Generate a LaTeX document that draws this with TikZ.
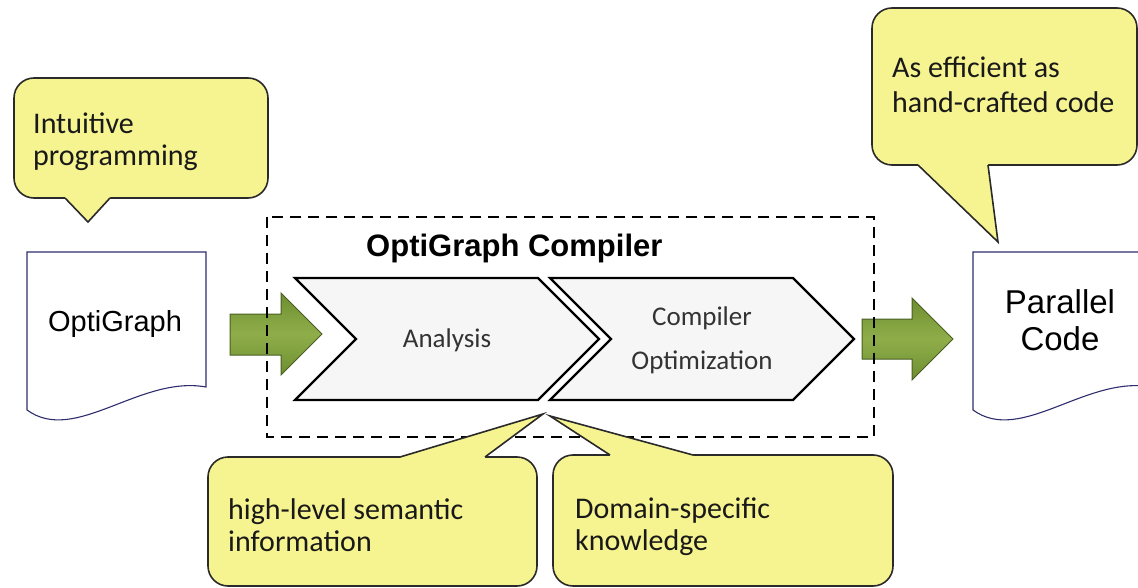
\documentclass[tikz,border=0pt]{standalone}
\usepackage{fontspec}
\setmainfont{Carlito}
\newfontfamily\arialFont{Liberation Sans}
\definecolor{calloutFill}{HTML}{F6F391}
\definecolor{calloutLine}{HTML}{2A2A2A}
\definecolor{docLine}{HTML}{2E2E6E}
\definecolor{arrowDark}{HTML}{6E8D30}
\definecolor{arrowLight}{HTML}{8FAE4A}
\definecolor{arrowLine}{HTML}{4A5E22}
\definecolor{chevronFill}{HTML}{F6F6F6}
\tikzset{
    CalloutShape/.style={fill=calloutFill, draw=calloutLine, line width=1.6pt, rounded corners=20pt},
    CalloutTail/.style={fill=calloutFill},
    CalloutEdge/.style={draw=calloutLine, line width=1.6pt, line join=miter},
    CalloutText/.style={font=\fontsize{30}{32}\selectfont, text=black!90, anchor=north west, inner sep=0pt, align=left},
    DocShape/.style={fill=white, draw=docLine, line width=1.1pt},
    DocText/.style={font=\arialFont\fontsize{29}{35}\selectfont, align=center},
    ChevronShape/.style={fill=chevronFill, draw=black, line width=2.2pt, line join=miter},
    ChevronText/.style={font=\fontsize{27}{44}\selectfont, text=black!80, align=center},
    FatArrow/.style={top color=arrowDark, bottom color=arrowDark, middle color=arrowLight, draw=arrowLine, line width=1pt},
    CompilerFrame/.style={draw=black, line width=1.8pt, dash pattern=on 11pt off 7pt}
}

\begin{document}
\begin{tikzpicture}[x=1pt, y=-1pt]
    \useasboundingbox (0,0) rectangle (1138,588);

    % documents
    \draw[DocShape] (27,252) -- (206,252) -- (206,387) .. controls (140,375) and (75,445) .. (27,410) -- cycle;
    \draw[DocShape] (973,252) -- (1152,252) -- (1152,387) .. controls (1086,375) and (1021,445) .. (973,410) -- cycle;
    \node[DocText, anchor=base] (source) at (115,331) {OptiGraph};
    \node[DocText, font=\arialFont\fontsize{33}{37}\selectfont] (parallel) at (1060,320) {Parallel\\Code};

    % compiler stages
    \draw[ChevronShape] (295,278) -- (538,278) -- (599,339) -- (538,400) -- (295,400) -- (356,339) -- cycle;
    \draw[ChevronShape] (550,278) -- (793,278) -- (854,339) -- (793,400) -- (550,400) -- (611,339) -- cycle;
    \node[ChevronText] (analysis) at (447,340) {Analysis};
    \node[ChevronText] (optimization) at (702,340) {Compiler\\Optimization};

    \draw[FatArrow] (230,314) -- (281,314) -- (281,293) -- (322,334) -- (281,375) -- (281,355) -- (230,355) -- cycle;
    \draw[FatArrow] (862,319) -- (912,319) -- (912,298) -- (953,339) -- (912,380) -- (912,359) -- (862,359) -- cycle;

    \draw[CompilerFrame] (267,217) rectangle (874,437);
    \node[font=\arialFont\bfseries\fontsize{31}{36}\selectfont, anchor=base west, inner sep=0pt] (compiler) at (366,256) {OptiGraph Compiler};

    % callouts: box, then tail over the border
    \draw[CalloutShape] (14,78) rectangle (268,198);
    \fill[CalloutTail] (65,195) -- (65,198) -- (88,222) -- (110,198) -- (110,195) -- cycle;
    \draw[CalloutEdge] (65,198) -- (88,222) -- (110,198);

    \draw[CalloutShape] (872,8) rectangle (1137,165);
    \fill[CalloutTail] (918,162) -- (918,165) -- (998,242) -- (988,165) -- (988,162) -- cycle;
    \draw[CalloutEdge] (918,165) -- (998,242) -- (988,165);

    \draw[CalloutShape] (208,457) rectangle (537,586);
    \fill[CalloutTail] (400,460) -- (400,457) -- (543,414) -- (485,457) -- (485,460) -- cycle;
    \draw[CalloutEdge] (400,457) -- (543,414) -- (485,457);

    \draw[CalloutShape] (553,455) rectangle (893,586);
    \fill[CalloutTail] (610,458) -- (610,455) -- (550,416) -- (693,455) -- (693,458) -- cycle;
    \draw[CalloutEdge] (610,455) -- (550,416) -- (693,455);

    \node[CalloutText] (intuitive) at (33,113) {Intuitive\\programming};
    \node[CalloutText, font=\fontsize{30}{35}\selectfont] (efficient) at (892,57) {As efficient as\\hand-crafted code};
    \node[CalloutText] (semantic) at (228,498) {high-level semantic\\information};
    \node[CalloutText] (domain) at (575,498) {Domain-specific\\knowledge};
\end{tikzpicture}
\end{document}
